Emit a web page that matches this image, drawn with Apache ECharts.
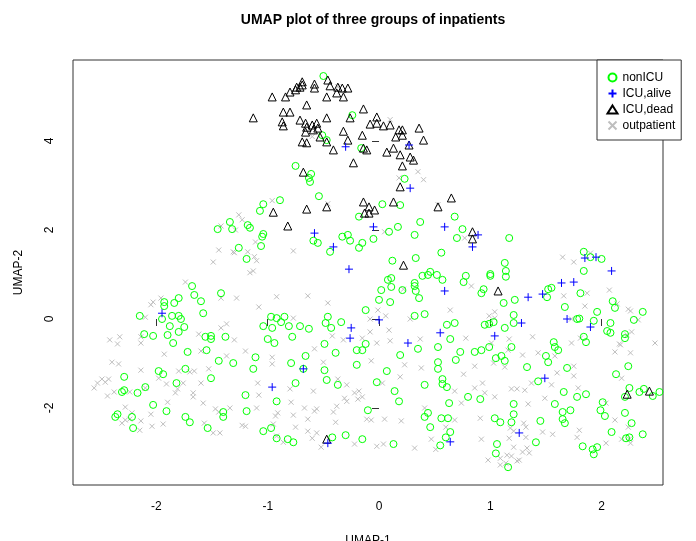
<!DOCTYPE html>
<html>
<head>
<meta charset="utf-8">
<script src="https://cdn.jsdelivr.net/npm/echarts@6/dist/echarts.min.js"></script>
<style>
  html, body { margin: 0; padding: 0; background: #fff; }
  #chart { width: 696px; height: 541px; }
</style>
</head>
<body>
<div id="chart"></div>
<script>
// UMAP coordinates, [UMAP-1, UMAP-2]
const nonIcuPoints = [
  [-0.50,5.46],[-0.24,4.58],[-0.51,4.13],[-0.47,4.02],[-0.16,3.84],[-0.75,3.44],[-0.61,3.26],[-0.63,3.17],[-0.62,3.08],[-0.54,2.76],
  [-0.89,2.67],[-1.04,2.58],[0.23,3.15],[0.03,2.58],[0.19,2.56],[-1.45,2.02],[-1.68,0.74],[-1.42,0.58],[-1.66,0.54],[-1.80,0.47],
  [-1.60,0.40],[-1.84,0.36],[-1.93,0.38],[-1.93,0.29],[-2.15,0.07],[-1.95,0],[-1.86,0.07],[-1.80,0.07],[-1.78,0],[-1.58,0.13],
  [-1.88,-0.16],[-1.75,-0.18],[-1.80,-0.29],[-2.11,-0.34],[-2.03,-0.38],[-1.90,-0.36],[-1.85,-0.54],[-1.56,-0.40],[-1.51,-0.38],[-1.51,-0.45],
  [-1.07,2.43],[-1.34,2.18],[-1.32,2.02],[-1.18,2.11],[-1.16,2.05],[-1.04,1.91],[-1.05,1.85],[-1.06,1.64],[-1.26,1.60],[-1.19,1.35],
  [-0.59,1.76],[-0.55,1.71],[-0.44,1.51],[-0.33,1.85],[-0.28,1.89],[-0.26,1.76],[-0.18,2.30],[-0.15,1.71],[-0.18,1.60],[-0.12,0.20],
  [-0.97,0.05],[-0.92,0.02],[-0.85,0.05],[-0.88,-0.07],[-1.04,-0.16],[-0.96,-0.20],[-0.81,-0.16],[-0.71,-0.16],[-0.63,-0.22],[-0.46,0.05],
  [-0.48,-0.09],[-0.43,-0.20],[-0.34,-0.07],[-1.38,-0.40],[-1.00,-0.45],[-0.94,-0.54],[-0.78,-0.40],[-0.49,-0.56],[-0.12,-0.56],
  [0.68,2.30],[0.37,2.18],[0.17,2.07],[0.09,1.96],[-0.05,1.80],[0.32,1.89],[0.75,2.02],[0.70,1.82],[1.17,1.82],[0.56,1.49],
  [0.33,1.37],[0.12,1.31],[1.13,1.26],[1.14,1.08],[1.14,0.95],[1.00,1.01],[1.00,0.97],[0.39,0.97],[0.44,0.99],[0.46,1.06],
  [0.52,0.99],[0.57,0.88],[0.78,0.97],[0.76,0.83],[0.11,0.92],[0.08,0.88],[0.11,0.72],[0.32,0.81],[0.32,0.74],[0.33,0.63],
  [0.36,0.47],[0.02,0.65],[0.21,0.65],[0.94,0.67],[0.92,0.58],[0.00,0.43],[0.10,0.38],[1.22,0.43],[1.12,0.36],[0.32,0.07],
  [0.41,0.11],[1.21,0.09],[1.21,-0.09],[0.61,-0.13],[0.68,-0.09],[0.95,-0.13],[0.99,-0.11],[1.03,-0.07],[1.13,-0.20],[0.64,-0.45],
  [1.84,1.51],[1.90,1.39],[2.00,1.35],[1.84,1.08],[1.52,0.67],[1.55,0.70],[1.51,0.49],[1.81,0.58],[2.10,0.40],[2.12,0.25],
  [1.67,0.27],[1.96,0.16],[2.37,0.16],[1.78,0],[1.80,0.01],[1.93,-0.04],[2.29,-0.02],[2.08,-0.09],[2.05,-0.27],[2.08,-0.31],
  [2.21,-0.34],[2.21,-0.43],[1.84,-0.40],[1.86,-0.52],[1.57,-0.52],
  [-1.72,-0.74],[-1.55,-0.70],[-1.44,-0.94],[-2.29,-1.30],[-1.98,-1.17],[-1.94,-1.24],[-1.74,-1.12],[-1.51,-1.33],[-1.82,-1.44],[-2.10,-1.53],
  [-2.31,-1.64],[-2.29,-1.60],[-2.17,-1.66],[-2.03,-1.93],[-1.91,-2.07],[-2.35,-2.14],[-2.37,-2.20],[-2.22,-2.20],[-2.21,-2.45],[-1.74,-2.20],
  [-1.70,-2.32],[-1.54,-2.45],
  [-0.39,-0.76],[-0.20,-0.70],[-0.15,-0.70],[-0.66,-0.83],[-1.11,-0.86],[-1.31,-0.99],[-0.79,-0.99],[-1.13,-1.12],[-0.68,-1.12],[-0.49,-1.15],
  [-0.20,-1.03],[-0.47,-1.37],[-0.75,-1.44],[-0.37,-1.48],[-1.20,-1.71],[-0.92,-1.85],[-1.40,-2.09],[-1.40,-2.20],[-1.19,-2.07],[-0.10,-2.05],
  [-1.04,-2.52],[-0.97,-2.45],[-0.92,-2.68],[-0.82,-2.70],[-0.77,-2.77],[-0.42,-2.66],[-0.30,-2.61],[-0.15,-2.70],
  [0.53,-0.63],[0.35,-0.67],[0.73,-0.74],[0.86,-0.74],[0.92,-0.70],[0.99,-0.63],[1.05,-0.88],[1.10,-0.83],[1.13,-0.94],[1.19,-0.63],
  [0.19,-0.81],[0.53,-0.97],[0.69,-0.92],[0.53,-1.12],[0.07,-1.17],[0.57,-1.35],[0.57,-1.46],[0.61,-1.53],[-0.02,-1.42],[0.41,-1.48],
  [0.14,-1.62],[0.18,-1.85],[0.63,-1.89],[0.80,-1.75],[0.91,-1.80],[1.21,-1.91],[0.44,-2.11],[0.41,-2.20],[0.56,-2.23],[0.62,-2.23],
  [1.04,-2.23],[1.09,-2.32],[1.21,-2.14],[1.19,-2.32],[0.46,-2.43],[0.64,-2.54],[0.60,-2.66],[0.55,-2.84],[0.13,-2.81],[1.06,-2.81],
  [1.05,-3.02],[1.16,-3.33],
  [1.58,-0.63],[1.61,-0.70],[1.50,-0.83],[1.52,-0.97],[1.33,-1.08],[1.69,-1.10],[2.24,-1.06],[2.13,-1.24],[1.43,-1.40],[1.66,-1.64],
  [1.86,-1.69],[1.78,-1.75],[2.25,-1.55],[2.21,-1.75],[2.34,-1.64],[2.38,-1.57],[2.46,-1.73],[2.52,-1.64],[2.01,-1.87],[1.58,-1.91],
  [1.99,-2.05],[2.03,-2.18],[1.72,-2.05],[1.65,-2.09],[1.65,-2.25],[1.67,-2.34],[2.21,-2.11],[1.45,-2.29],[2.27,-2.34],[2.09,-2.54],
  [2.37,-2.59],[2.22,-2.68],[2.25,-2.66],[1.41,-2.77],[1.83,-2.86],[1.96,-2.88],[1.92,-2.93],[1.93,-3.04]
];

const icuAlivePoints = [
  [-0.30,3.87],[0.27,3.91],[0.28,2.94],[-1.95,0.13],[-0.58,1.93],[-0.41,1.62],[-0.27,1.12],[-0.25,-0.20],[-0.26,-0.43],
  [-0.05,2.07],[0.59,2.07],[0.89,1.89],[0.84,1.62],[0.59,0.63],[0.00,-0.02],[0.55,-0.31],[0.26,-0.54],[1.04,-0.38],
  [1.85,1.37],[1.95,1.39],[2.09,1.08],[1.64,0.81],[1.75,0.83],[1.34,0.49],[1.47,0.56],[1.28,-0.09],[1.69,0.00],[1.90,-0.18],
  [-0.68,-1.12],[-0.96,-1.53],[-0.46,-2.79],[0.64,-2.76],[1.49,-1.33],[1.26,-2.56]
];

const icuDeadPoints = [
  [-0.69,5.33],[-0.69,5.26],[-0.71,5.21],[-0.58,5.28],[-0.58,5.19],[-0.46,5.37],[-0.44,5.24],[-0.37,5.21],[-0.33,5.19],[-0.28,5.19],
  [-0.38,5.08],[-0.32,4.99],[-0.96,4.99],[-0.84,4.99],[-0.80,5.10],[-0.75,5.15],[-0.74,5.21],[-0.65,4.81],[-0.47,4.99],[-1.13,4.52],
  [-0.86,4.65],[-0.80,4.65],[-0.87,4.43],[-0.86,4.34],[-0.71,4.47],[-0.66,4.40],[-0.65,4.31],[-0.60,4.36],[-0.56,4.40],[-0.55,4.29],
  [-0.66,4.20],[-0.59,4.25],[-0.47,4.52],[-0.14,4.72],[-0.26,4.52],[-0.32,4.22],[-0.15,4.13],[-0.28,4.02],[-0.53,4.09],[-0.47,3.98],
  [-0.69,3.98],[-0.65,3.96],[-0.41,3.80],[-0.14,3.84],[-0.11,3.80],[-0.23,3.51],[-0.68,3.30],[-0.14,2.63],[-0.02,4.54],[-0.08,4.38],
  [-0.02,4.40],[0.04,4.34],[0.10,4.36],[0.18,4.25],[0.15,4.09],[0.21,4.13],[0.21,4.25],[0.36,4.29],[0.40,4.02],[0.27,3.91],
  [0.07,3.75],[0.13,3.84],[0.19,3.69],[0.28,3.64],[0.31,3.57],[0.21,3.44],[0.19,2.97],[0.13,2.63],[0.65,2.72],[-0.95,2.40],
  [-0.65,2.47],[-0.47,2.52],[-0.82,2.09],[-0.13,2.38],[-0.09,2.52],[-0.04,2.45],[-0.09,2.38],[0.53,2.52],[0.84,1.96],[0.84,1.80],
  [0.22,1.21],[1.07,0.63],[-0.47,-2.70],[2.23,-1.69],[2.43,-1.62]
];

const outpatientPoints = [
  [-0.37,5.22],[-0.60,4.10],[-0.96,2.66],[-0.46,2.59],[0.10,4.48],[0.18,3.17],[0.35,3.31],[0.40,3.13],[0.53,2.57],[-1.42,2.09],
  [-1.44,1.55],[-1.49,1.28],[-1.74,0.83],[-1.42,0.47],[-1.96,0.47],[-2.03,0.38],[-2.05,0.32],[-2.10,0.04],[-1.62,-0.34],[-1.42,-0.20],
  [-2.42,-0.47],[-2.33,-0.40],[-2.14,-0.40],[-2.35,-0.56],[-2.14,-0.54],[-1.26,2.34],[-1.23,2.23],[-1.29,2.00],[-1.11,1.73],[-1.31,1.51],
  [-1.30,1.49],[-1.18,1.51],[-1.12,1.40],[-1.10,1.31],[-1.16,1.04],[-1.13,1.08],[-0.77,1.53],[-1.28,0.47],[-0.92,0.50],[-0.64,0.52],
  [-1.08,0.27],[-0.46,0.36],[-0.77,0.02],[-1.37,-0.11],[-0.42,-0.38],[-0.32,-0.47],[-1.30,-0.47],[-0.15,-0.43],[-0.08,0.00],[0.05,1.96],
  [0.77,1.82],[0.22,0.67],[0.83,0.74],[0.64,0.20],[-0.01,0.20],[0.06,0.07],[0.28,0.00],[1.04,0.16],[1.04,0.02],[0.99,0.07],
  [-0.08,-0.29],[0.09,-0.25],[0.37,-0.45],[0.78,-0.43],[-0.02,-0.54],[0.10,-0.49],[1.17,-0.45],[1.01,-0.54],[1.65,1.39],[1.75,1.28],
  [1.90,1.48],[1.66,0.52],[1.87,0.58],[2.07,0.65],[1.85,0.29],[2.14,0.34],[2.24,0.22],[2.26,0.18],[1.73,0.00],[2.33,-0.02],
  [1.38,-0.40],[1.73,-0.54],[1.81,-0.43],[2.23,-0.36],[2.27,-0.29],[2.48,-0.54],[2.16,-0.56],
  [-1.93,-0.79],[-1.60,-0.72],[-2.40,-0.97],[-2.34,-1.01],[-2.14,-1.15],[-1.98,-1.33],[-1.91,-1.46],[-1.80,-1.17],[-1.70,-1.19],[-1.66,-1.17],
  [-1.53,-1.12],[-1.60,-1.44],[-1.76,-1.44],[-1.83,-1.66],[-1.81,-1.57],[-1.67,-1.66],[-1.67,-1.75],[-2.49,-1.35],[-2.46,-1.42],[-2.43,-1.35],
  [-2.53,-1.44],[-2.56,-1.55],[-2.44,-1.73],[-2.38,-1.64],[-2.24,-1.64],[-2.10,-1.55],[-1.58,-1.89],[-1.90,-1.87],[-2.28,-1.98],[-2.22,-2.11],
  [-2.05,-2.14],[-2.14,-2.29],[-2.31,-2.34],[-2.28,-2.27],[-2.24,-2.25],[-1.94,-2.36],[-2.04,-2.41],[-2.15,-2.50],[-1.57,-2.34],[-1.47,-2.02],
  [-1.44,-2.09],[-1.49,-2.56],[-1.43,-2.56],
  [-1.20,-0.72],[-1.37,-0.83],[-0.96,-0.86],[-0.96,-1.01],[-0.58,-0.67],[-0.50,-0.97],[-1.09,-1.44],[-1.08,-1.71],[-0.80,-1.57],[-0.79,-1.87],
  [-0.59,-1.62],[-0.37,-1.35],[-0.29,-1.48],[-0.22,-1.66],[-0.18,-1.62],[-0.31,-1.78],[-0.29,-1.85],[-0.19,-1.80],[-0.15,-1.75],[-1.34,-2.00],
  [-1.10,-2.00],[-0.91,-2.11],[-0.93,-2.18],[-0.67,-2.00],[-0.58,-2.07],[-0.56,-2.02],[-0.38,-1.96],[-0.41,-2.09],[-0.77,-2.16],[-0.64,-2.25],
  [-0.95,-2.36],[-0.39,-2.32],[-0.11,-2.25],[-1.23,-2.39],[-1.20,-2.41],[-0.75,-2.43],[-0.64,-2.52],[-0.56,-2.56],[-0.92,-2.63],[-0.60,-2.68],
  [-0.86,-2.77],[-0.52,-2.88],[-0.22,-2.81],
  [1.16,-0.70],[-0.07,-0.94],[0.23,-1.03],[0.38,-1.10],[1.03,-0.99],[1.13,-1.08],[0.86,-1.06],[0.76,-1.24],[0.19,-1.30],[0.03,-1.44],
  [0.93,-1.44],[0.86,-1.55],[0.95,-1.66],[0.68,-1.62],[1.19,-1.57],[0.74,-1.89],[1.04,-1.75],[0.41,-2.00],[-0.07,-2.27],[0.05,-2.25],
  [0.20,-2.29],[0.68,-2.27],[0.91,-2.23],[0.60,-2.43],[1.18,-2.45],[1.21,-2.52],[0.92,-2.70],[0.47,-2.70],[0.51,-2.93],[0.32,-2.90],
  [-0.02,-2.86],[0.04,-2.81],[1.17,-2.68],[0.98,-3.17],[1.09,-3.13],[1.09,-3.28],[1.15,-3.06],[1.19,-3.08],[1.14,-3.24],
  [2.17,-0.58],[2.12,-0.74],[2.26,-0.76],[1.29,-0.81],[1.43,-0.76],[1.58,-0.83],[1.75,-1.06],[1.60,-1.21],[1.75,-1.28],[2.18,-1.33],
  [1.37,-1.44],[1.55,-1.48],[1.24,-1.57],[1.31,-1.60],[1.79,-1.55],[1.49,-1.78],[2.04,-1.89],[1.34,-1.91],[2.12,-2.27],[1.80,-2.50],
  [1.78,-2.66],[1.47,-2.54],[1.56,-2.59],[1.30,-2.34],[1.32,-2.43],[1.32,-2.66],[2.24,-2.43],[2.04,-2.79],[2.18,-2.70],[2.25,-2.70],
  [2.26,-2.79],[1.33,-2.90],[1.29,-2.99],[1.35,-3.01],[1.21,-2.88],[1.26,-3.17],[1.24,-3.19]
];

const groupNames = ['nonICU', 'ICU,alive', 'ICU,dead', 'outpatient'];
const xTicks = [-2, -1, 0, 1, 2];
const yTicks = [-2, 0, 2, 4];

const plusPath = 'path://M0,5L10,5M5,0L5,10';
const crossPath = 'path://M0,0L10,10M10,0L0,10';

const chart = echarts.init(document.getElementById('chart'));

const axisFont = { fontFamily: 'Liberation Sans, Arial, sans-serif', fontSize: 12, color: '#000' };

const option = {
  backgroundColor: '#fff',
  animation: false,
  title: {
    text: 'UMAP plot of three groups of inpatients',
    left: 368,
    top: 8,
    textAlign: 'center',
    textStyle: { fontFamily: 'Liberation Sans, Arial, sans-serif', fontSize: 14, fontWeight: 'bold', color: '#000' }
  },
  legend: {
    orient: 'vertical',
    left: 597,
    top: 60,
    padding: [11, 6, 8, 8],
    itemGap: 3,
    itemWidth: 10,
    itemHeight: 8,
    borderColor: '#333',
    borderWidth: 1,
    backgroundColor: '#fff',
    textStyle: { fontFamily: 'Liberation Sans, Arial, sans-serif', fontSize: 12, lineHeight: 12, color: '#000' },
    data: groupNames
  },
  grid: {
    left: 73, top: 60, width: 590, height: 425,
    outerBoundsMode: 'none',
    containLabel: false,
    show: true, borderColor: '#333', borderWidth: 1, backgroundColor: 'transparent'
  },
  xAxis: {
    type: 'value',
    min: -2.75, max: 2.552,
    name: 'UMAP-1', nameLocation: 'middle', nameGap: 50,
    nameTextStyle: axisFont,
    splitLine: { show: false },
    axisLine: { show: false },
    axisTick: { show: true, length: 7, lineStyle: { color: '#333' }, customValues: xTicks },
    axisLabel: Object.assign({ margin: 16, customValues: xTicks }, axisFont)
  },
  yAxis: {
    type: 'value',
    min: -3.73, max: 5.82,
    name: 'UMAP-2', nameLocation: 'middle', nameGap: 48,
    nameTextStyle: axisFont,
    splitLine: { show: false },
    axisLine: { show: false },
    axisTick: { show: true, length: 7, lineStyle: { color: '#333' }, customValues: yTicks },
    axisLabel: Object.assign({ margin: 17, rotate: 90, customValues: yTicks }, axisFont)
  },
  series: [
    {
      name: 'outpatient', type: 'scatter', data: outpatientPoints, z: 1,
      symbol: crossPath, symbolSize: 5,
      itemStyle: { color: 'none', borderColor: '#BEBEBE', borderWidth: 1, opacity: 1 }
    },
    {
      name: 'nonICU', type: 'scatter', data: nonIcuPoints, z: 2,
      symbol: 'circle', symbolSize: 7,
      itemStyle: { color: 'none', borderColor: '#00FF00', borderWidth: 1, opacity: 1 }
    },
    {
      name: 'ICU,dead', type: 'scatter', data: icuDeadPoints, z: 3,
      symbol: 'triangle', symbolSize: 8,
      itemStyle: { color: 'none', borderColor: '#000', borderWidth: 1, opacity: 1 }
    },
    {
      name: 'ICU,alive', type: 'scatter', data: icuAlivePoints, z: 4,
      symbol: plusPath, symbolSize: 8,
      itemStyle: { color: 'none', borderColor: '#0000FF', borderWidth: 1, opacity: 1 }
    }
  ]
};

chart.setOption(option);
</script>
</body>
</html>
